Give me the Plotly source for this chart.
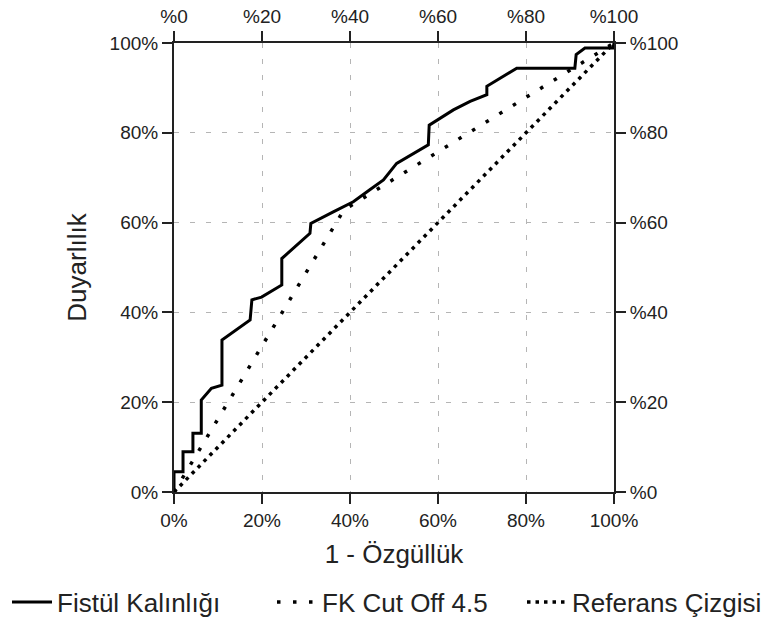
import plotly.graph_objects as go

# Data
fpr_fistul = [0, 0, 0.0205, 0.0205, 0.043, 0.043, 0.062, 0.062, 0.085, 0.109, 0.109,
              0.173, 0.177, 0.199, 0.245, 0.245, 0.309, 0.311, 0.362, 0.4075, 0.445,
              0.476, 0.506, 0.578, 0.58, 0.635, 0.673, 0.711, 0.711, 0.779, 0.911,
              0.914, 0.934, 0.998, 1.0]
tpr_fistul = [0, 0.045, 0.045, 0.0898, 0.0898, 0.131, 0.131, 0.205, 0.231, 0.238, 0.3385,
              0.383, 0.428, 0.434, 0.461, 0.520, 0.576, 0.598, 0.624, 0.6465, 0.673,
              0.695, 0.732, 0.773, 0.817, 0.851, 0.870, 0.885, 0.9035, 0.944, 0.944,
              0.974, 0.989, 0.989, 1.0]
fpr_cutoff = [0, 0.386, 1]
tpr_cutoff = [0, 0.628, 1]
ref_x = [0, 1]
ref_y = [0, 1]

tick_vals = [0, 0.2, 0.4, 0.6, 0.8, 1.0]
tick_text_main = ["0%", "20%", "40%", "60%", "80%", "100%"]
tick_text_alt = ["%0", "%20", "%40", "%60", "%80", "%100"]

series_names = ["Fistül Kalınlığı", "FK Cut Off 4.5", "Referans Çizgisi"]
x_title = "1 - Özgüllük"
y_title = "Duyarlılık"

FONT = "Liberation Sans, Arial, sans-serif"

fig = go.Figure()
fig.add_trace(go.Scatter(x=fpr_fistul, y=tpr_fistul, mode="lines", name=series_names[0],
                         legend="legend",
                         line=dict(color="black", width=3)))
fig.add_trace(go.Scatter(x=fpr_cutoff, y=tpr_cutoff, mode="lines", name=series_names[1],
                         legend="legend2",
                         line=dict(color="black", width=3.5, dash="3.5px,12.5px")))
fig.add_trace(go.Scatter(x=ref_x, y=ref_y, mode="lines", name=series_names[2],
                         legend="legend3",
                         line=dict(color="black", width=3.5, dash="3.5px,5px")))
# invisible trace to activate secondary (top/right) axes
fig.add_trace(go.Scatter(x=ref_x, y=ref_y, mode="lines", xaxis="x2", yaxis="y2",
                         showlegend=False, hoverinfo="skip",
                         line=dict(color="rgba(0,0,0,0)", width=0)))

axis_common = dict(range=[0, 1], tickvals=tick_vals, ticks="outside", ticklen=10,
                   tickwidth=2, tickcolor="#222", showline=True, linecolor="#222",
                   linewidth=2, zeroline=False,
                   tickfont=dict(family=FONT, size=19, color="#222"))

def legend_at(xpx):
    return dict(orientation="h", x=xpx / 770, xanchor="left",
                y=(620 - 602) / 620, yanchor="middle",
                xref="container", yref="container",
                font=dict(family=FONT, size=26, color="#222"),
                bgcolor="rgba(0,0,0,0)", itemwidth=40)

fig.update_layout(
    width=770, height=620,
    margin=dict(l=174, r=156, t=43, b=128, autoexpand=False),
    paper_bgcolor="white", plot_bgcolor="white",
    font=dict(family=FONT, color="#222"),
    xaxis=dict(**axis_common, ticktext=tick_text_main, showgrid=True,
               gridcolor="#b5b5b5", gridwidth=1, griddash="5px,11px",
               title=dict(text=x_title, font=dict(family=FONT, size=26, color="#222"),
                          standoff=15)),
    yaxis=dict(**axis_common, ticktext=tick_text_main, showgrid=True,
               gridcolor="#b5b5b5", gridwidth=1, griddash="5px,11px",
               title=dict(text=y_title, font=dict(family=FONT, size=26, color="#222"),
                          standoff=15)),
    xaxis2=dict(**axis_common, ticktext=tick_text_alt, overlaying="x", side="top",
                showgrid=False),
    yaxis2=dict(**axis_common, ticktext=tick_text_alt, overlaying="y", side="right",
                showgrid=False),
    legend=legend_at(7),
    legend2=legend_at(272),
    legend3=legend_at(522),
    showlegend=True,
)

fig.write_html("out.html")
